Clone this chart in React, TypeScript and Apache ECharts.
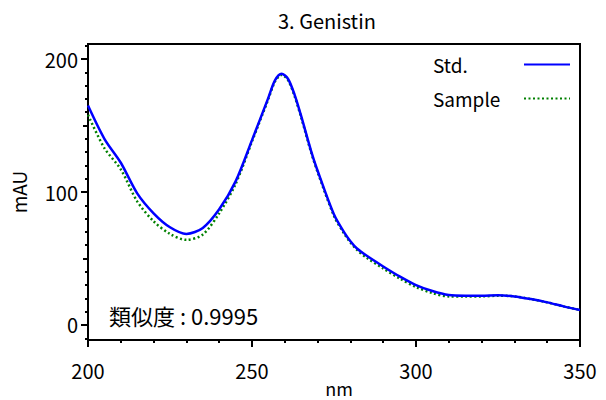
import React, { useEffect, useRef } from "react";
import * as echarts from "echarts";

const wavelengths = [200, 205, 210, 215, 220, 225, 230, 235, 240, 245, 250, 255, 257, 259, 261, 263, 265, 268, 270, 275, 278, 280, 282, 285, 290, 295, 300, 305, 310, 315, 320, 325, 330, 335, 340, 345, 350];
const stdValues = [165, 140, 122, 99, 84, 73.5, 68.5, 73, 87, 108, 139, 171, 184, 189, 185, 173, 157, 131, 116, 83, 70, 63, 57.5, 52, 44, 36.5, 30, 25.5, 22.5, 22, 22, 22.3, 21.5, 19.5, 17, 14, 11.3];
const sampleValues = [158, 133, 117, 93, 78, 68.5, 64, 68, 84, 106, 138, 170, 183, 188, 184, 172, 156, 130, 115, 82, 69, 62, 56.5, 50.5, 42.5, 35, 28.5, 24, 21.5, 21.5, 21.5, 22, 21.5, 19.5, 17, 14, 11.3];

const yMajorTicks = [0, 100, 200];
const yMediumTicks = [50, 150];
const yMinorTicks = [-10, 10, 20, 30, 40, 60, 70, 80, 90, 110, 120, 130, 140, 160, 170, 180, 190, 210];

const FONT = "'Noto Sans CJK JP', 'Noto Sans', sans-serif";
const Y_MIN = -11.3;
const Y_MAX = 211.3;

export default function App() {
  const ref = useRef<HTMLDivElement>(null);
  useEffect(() => {
    if (!ref.current) return;
    const chart = echarts.init(ref.current, null, { renderer: "svg" });
    const stdData = wavelengths.map((w, i) => [w, stdValues[i]]);
    const sampleData = wavelengths.map((w, i) => [w, sampleValues[i]]);
    const baseY = {
      type: "value",
      position: "left",
      offset: 0,
      min: Y_MIN,
      max: Y_MAX,
      splitLine: { show: false },
    };
    chart.setOption({
      animation: false,
      backgroundColor: "#fff",
      textStyle: { fontFamily: FONT, color: "#000" },
      title: {
        text: "3. Genistin",
        left: 273,
        top: 5,
        textStyle: { fontFamily: FONT, fontSize: 20, fontWeight: "normal", color: "#000" },
      },
      grid: {
        left: 88,
        top: 44,
        right: 26,
        bottom: 60,
        outerBoundsMode: "none",
        containLabel: false,
        show: true,
        borderColor: "#000",
        borderWidth: 2,
        backgroundColor: "transparent",
      },
      legend: {
        orient: "vertical",
        align: "right",
        left: 428,
        top: 50,
        itemWidth: 46,
        itemHeight: 14,
        itemGap: 15,
        data: ["Std.", "Sample"],
        itemStyle: { opacity: 0 },
        formatter: (name: string) => `{a|${name}}`,
        textStyle: {
          fontFamily: FONT,
          fontSize: 19,
          color: "#000",
          rich: { a: { width: 86, align: "left", fontFamily: FONT, fontSize: 19, color: "#000" } },
        },
      },
      xAxis: {
        type: "value",
        min: 200,
        max: 350,
        interval: 50,
        axisLine: { show: true, onZero: false, lineStyle: { color: "#000", width: 2 } },
        axisTick: { show: true, length: 7, lineStyle: { color: "#000", width: 2 } },
        minorTick: { show: true, splitNumber: 5, length: 3, lineStyle: { color: "#000", width: 2 } },
        axisLabel: { fontFamily: FONT, fontSize: 20, color: "#000", margin: 20 },
        splitLine: { show: false },
      },
      yAxis: [
        {
          ...baseY,
          name: "mAU",
          nameLocation: "middle",
          nameGap: 60,
          nameRotate: 90,
          nameTextStyle: { fontFamily: FONT, fontSize: 19, color: "#000" },
          axisLine: { show: true, onZero: false, lineStyle: { color: "#000", width: 2 } },
          axisTick: { show: true, length: 7, customValues: yMajorTicks, lineStyle: { color: "#000", width: 2 } },
          axisLabel: { fontFamily: FONT, fontSize: 20, color: "#000", margin: 10, customValues: yMajorTicks },
        },
        {
          ...baseY,
          axisLine: { show: false, onZero: false },
          axisTick: { show: true, length: 5, customValues: yMediumTicks, lineStyle: { color: "#000", width: 2 } },
          axisLabel: { show: false },
        },
        {
          ...baseY,
          axisLine: { show: false, onZero: false },
          axisTick: { show: true, length: 3, customValues: yMinorTicks, lineStyle: { color: "#000", width: 2 } },
          axisLabel: { show: false },
        },
      ],
      graphic: [
        {
          type: "text",
          left: 109,
          top: 304,
          style: { text: "類似度 : 0.9995", fontFamily: FONT, fontSize: 22, fill: "#000" },
        },
        {
          type: "text",
          x: 339,
          y: 388,
          style: {
            text: "nm",
            fontFamily: FONT,
            fontSize: 18,
            fill: "#000",
            align: "center",
            verticalAlign: "middle",
          },
        },
      ],
      series: [
        {
          name: "Std.",
          type: "line",
          data: stdData,
          smooth: 0.3,
          symbol: "none",
          z: 3,
          color: "#0000ff",
          lineStyle: { color: "#0000ff", width: 2.5 },
        },
        {
          name: "Sample",
          type: "line",
          data: sampleData,
          smooth: 0.3,
          symbol: "none",
          z: 2,
          color: "#008000",
          lineStyle: { color: "#008000", width: 2.5, type: [2, 2.5] },
        },
      ],
    });
    return () => chart.dispose();
  }, []);
  return <div ref={ref} style={{ width: 606, height: 400, position: "absolute", left: 0, top: 0 }} />;
}
